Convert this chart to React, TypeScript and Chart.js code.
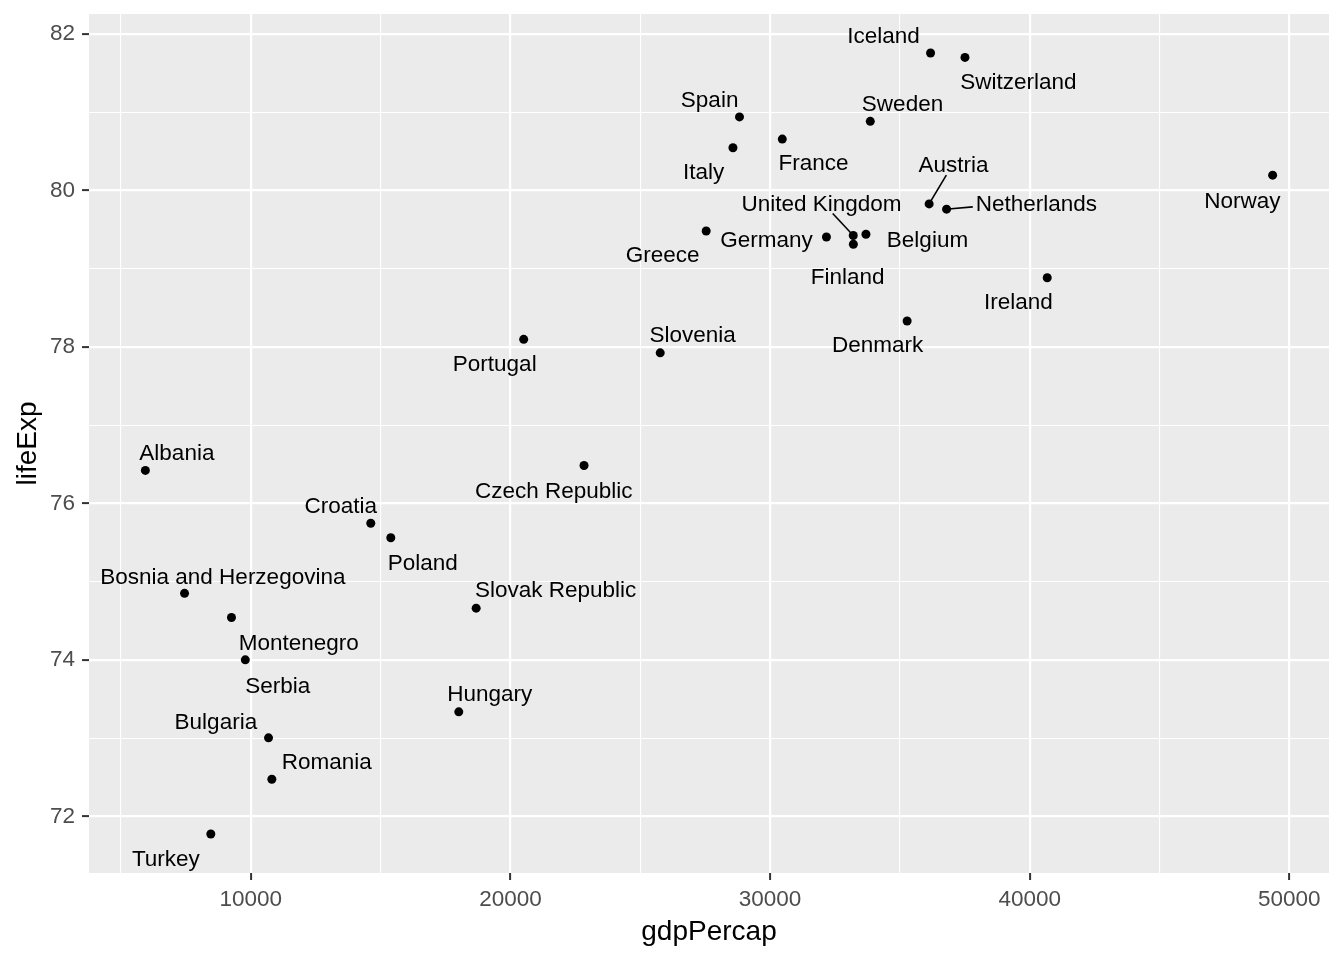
import React, { useEffect, useRef } from "react";
import { Chart, registerables } from "chart.js";

Chart.register(...registerables);

// Gapminder 2007, Europe
const countries = [
  "Albania", "Austria", "Belgium", "Bosnia and Herzegovina", "Bulgaria", "Croatia",
  "Czech Republic", "Denmark", "Finland", "France", "Germany", "Greece", "Hungary",
  "Iceland", "Ireland", "Italy", "Montenegro", "Netherlands", "Norway", "Poland",
  "Portugal", "Romania", "Serbia", "Slovak Republic", "Slovenia", "Spain", "Sweden",
  "Switzerland", "Turkey", "United Kingdom",
];
const gdpPercap = [
  5937.03, 36126.49, 33692.61, 7446.30, 10680.79, 14619.22,
  22833.31, 35278.42, 33207.08, 30470.02, 32170.37, 27538.41, 18008.94,
  36180.79, 40675.0, 28569.72, 9253.90, 36797.93, 49357.19, 15389.92,
  20509.65, 10808.48, 9786.53, 18678.31, 25768.26, 28821.06, 33859.75,
  37506.42, 8458.28, 33203.26,
];
const lifeExp = [
  76.423, 79.829, 79.441, 74.852, 73.005, 75.748,
  76.486, 78.332, 79.313, 80.657, 79.406, 79.483, 73.338,
  81.757, 78.885, 80.546, 74.543, 79.762, 80.196, 75.563,
  78.098, 72.476, 74.002, 74.663, 77.926, 80.941, 80.884,
  81.701, 71.777, 79.425,
];
// repelled label centres (data units)
const labelGdp = [
  7151, 37065, 36063, 8922, 8653, 13465,
  21665, 34139, 32983, 31675, 29865, 25861, 19201,
  34370, 39567, 27440, 11848, 40260, 48190, 16622,
  19394, 12926, 11039, 21742, 27017, 27671, 35101,
  39567, 6728, 31983,
];
const labelLife = [
  76.67, 80.35, 79.39, 75.09, 73.23, 76.0,
  76.19, 78.05, 78.92, 80.38, 79.39, 79.2, 73.59,
  82.0, 78.6, 80.26, 74.25, 79.86, 79.9, 75.27,
  77.81, 72.72, 73.7, 74.92, 78.18, 81.19, 81.14,
  81.41, 71.49, 79.86,
];
const segmentCountries = ["Austria", "Netherlands", "United Kingdom"];

const xMajorTicks = [10000, 20000, 30000, 40000, 50000];
const xMinorTicks = [5000, 15000, 25000, 35000, 45000];
const xTickLabels = ["10000", "20000", "30000", "40000", "50000"];
const yMajorTicks = [72, 74, 76, 78, 80, 82];
const yMinorTicks = [73, 75, 77, 79, 81];
const yTickLabels = ["72", "74", "76", "78", "80", "82"];

const xTitle = "gdpPercap";
const yTitle = "lifeExp";

const FONT = '"Liberation Sans", Arial, sans-serif';

function expand(vals: number[]) {
  const lo = Math.min(...vals);
  const hi = Math.max(...vals);
  const d = (hi - lo) * 0.05;
  return [lo - d, hi + d];
}

export default function App() {
  const ref = useRef<HTMLCanvasElement | null>(null);

  useEffect(() => {
    if (!ref.current) return;
    const [xMin, xMax] = expand(gdpPercap);
    const [yMin, yMax] = expand(lifeExp);

    const panelPlugin = {
      id: "panel",
      beforeDraw(chart: any) {
        const { ctx, chartArea: a } = chart;
        ctx.save();
        ctx.fillStyle = "#EBEBEB";
        ctx.fillRect(a.left, a.top, a.right - a.left, a.bottom - a.top);
        ctx.restore();
      },
      afterDatasetsDraw(chart: any) {
        const { ctx } = chart;
        const xs = chart.scales.x;
        const ys = chart.scales.y;
        ctx.save();
        ctx.font = `22.5px ${FONT}`;
        ctx.textAlign = "center";
        ctx.textBaseline = "middle";
        ctx.fillStyle = "#000000";
        countries.forEach((name, i) => {
          const lx = xs.getPixelForValue(labelGdp[i]);
          const ly = ys.getPixelForValue(labelLife[i]);
          if (segmentCountries.includes(name)) {
            const px = xs.getPixelForValue(gdpPercap[i]);
            const py = ys.getPixelForValue(lifeExp[i]);
            const hw = ctx.measureText(name).width / 2 + 3;
            const hh = 12;
            const dx = px - lx;
            const dy = py - ly;
            const t = Math.min(
              dx !== 0 ? hw / Math.abs(dx) : Infinity,
              dy !== 0 ? hh / Math.abs(dy) : Infinity
            );
            const sx = lx + dx * t;
            const sy = ly + dy * t;
            const len = Math.hypot(px - sx, py - sy);
            const ex = px - ((px - sx) / len) * 2;
            const ey = py - ((py - sy) / len) * 2;
            ctx.strokeStyle = "#000000";
            ctx.lineWidth = 1.6;
            ctx.beginPath();
            ctx.moveTo(sx, sy);
            ctx.lineTo(ex, ey);
            ctx.stroke();
          }
          ctx.fillText(name, lx, ly + 3);
        });
        ctx.restore();
      },
    };

    const isMajorX = (v: number) => xMajorTicks.includes(v);
    const isMajorY = (v: number) => yMajorTicks.includes(v);

    const chart = new Chart(ref.current, {
      type: "scatter",
      data: {
        datasets: [
          {
            data: gdpPercap.map((g, i) => ({ x: g, y: lifeExp[i] })),
            backgroundColor: "#000000",
            borderColor: "#000000",
            pointRadius: 4.5,
            pointBorderWidth: 0,
          },
        ],
      },
      options: {
        responsive: false,
        animation: false,
        devicePixelRatio: 1,
        layout: { padding: { top: 14, right: 15, left: 0, bottom: 0 } },
        plugins: { legend: { display: false }, tooltip: { enabled: false } },
        scales: {
          x: {
            type: "linear",
            min: xMin,
            max: xMax,
            afterBuildTicks: (s: any) => {
              s.ticks = [...xMinorTicks, ...xMajorTicks]
                .sort((a, b) => a - b)
                .map((v) => ({ value: v }));
            },
            afterFit: (s: any) => {
              s.height = 87;
              s.paddingLeft = 0;
              s.paddingRight = 0;
            },
            border: { display: false },
            grid: {
              color: "#FFFFFF",
              lineWidth: (c: any) => (isMajorX(c.tick.value) ? 2.2 : 1.1),
              tickColor: (c: any) => (isMajorX(c.tick.value) ? "#333333" : "rgba(0,0,0,0)"),
              tickLength: 7,
              tickWidth: 2,
            },
            ticks: {
              autoSkip: false,
              maxRotation: 0,
              padding: 6,
              color: "#4D4D4D",
              font: { family: FONT, size: 22.5 },
              callback: (v: any) => {
                const i = xMajorTicks.indexOf(Number(v));
                return i >= 0 ? xTickLabels[i] : "";
              },
            },
            title: {
              display: true,
              text: xTitle,
              color: "#000000",
              font: { family: FONT, size: 28, lineHeight: 1 },
              padding: { top: 0, bottom: 14 },
            },
          },
          y: {
            type: "linear",
            min: yMin,
            max: yMax,
            afterBuildTicks: (s: any) => {
              s.ticks = [...yMinorTicks, ...yMajorTicks]
                .sort((a, b) => a - b)
                .map((v) => ({ value: v }));
            },
            afterFit: (s: any) => {
              s.width = 89;
              s.paddingTop = 0;
              s.paddingBottom = 0;
            },
            border: { display: false },
            grid: {
              color: "#FFFFFF",
              lineWidth: (c: any) => (isMajorY(c.tick.value) ? 2.2 : 1.1),
              tickColor: (c: any) => (isMajorY(c.tick.value) ? "#333333" : "rgba(0,0,0,0)"),
              tickLength: 7,
              tickWidth: 2,
            },
            ticks: {
              autoSkip: false,
              padding: 7,
              color: "#4D4D4D",
              font: { family: FONT, size: 22.5 },
              callback: (v: any) => {
                const i = yMajorTicks.indexOf(Number(v));
                return i >= 0 ? yTickLabels[i] : "";
              },
            },
            title: {
              display: true,
              text: yTitle,
              color: "#000000",
              font: { family: FONT, size: 28, lineHeight: 1 },
              padding: { top: 14, bottom: 0 },
            },
          },
        },
      },
      plugins: [panelPlugin],
    });
    return () => chart.destroy();
  }, []);

  return (
    <div style={{ position: "absolute", left: 0, top: 0, width: 1344, height: 960, background: "#FFFFFF" }}>
      <canvas ref={ref} width={1344} height={960} style={{ display: "block" }} />
    </div>
  );
}
